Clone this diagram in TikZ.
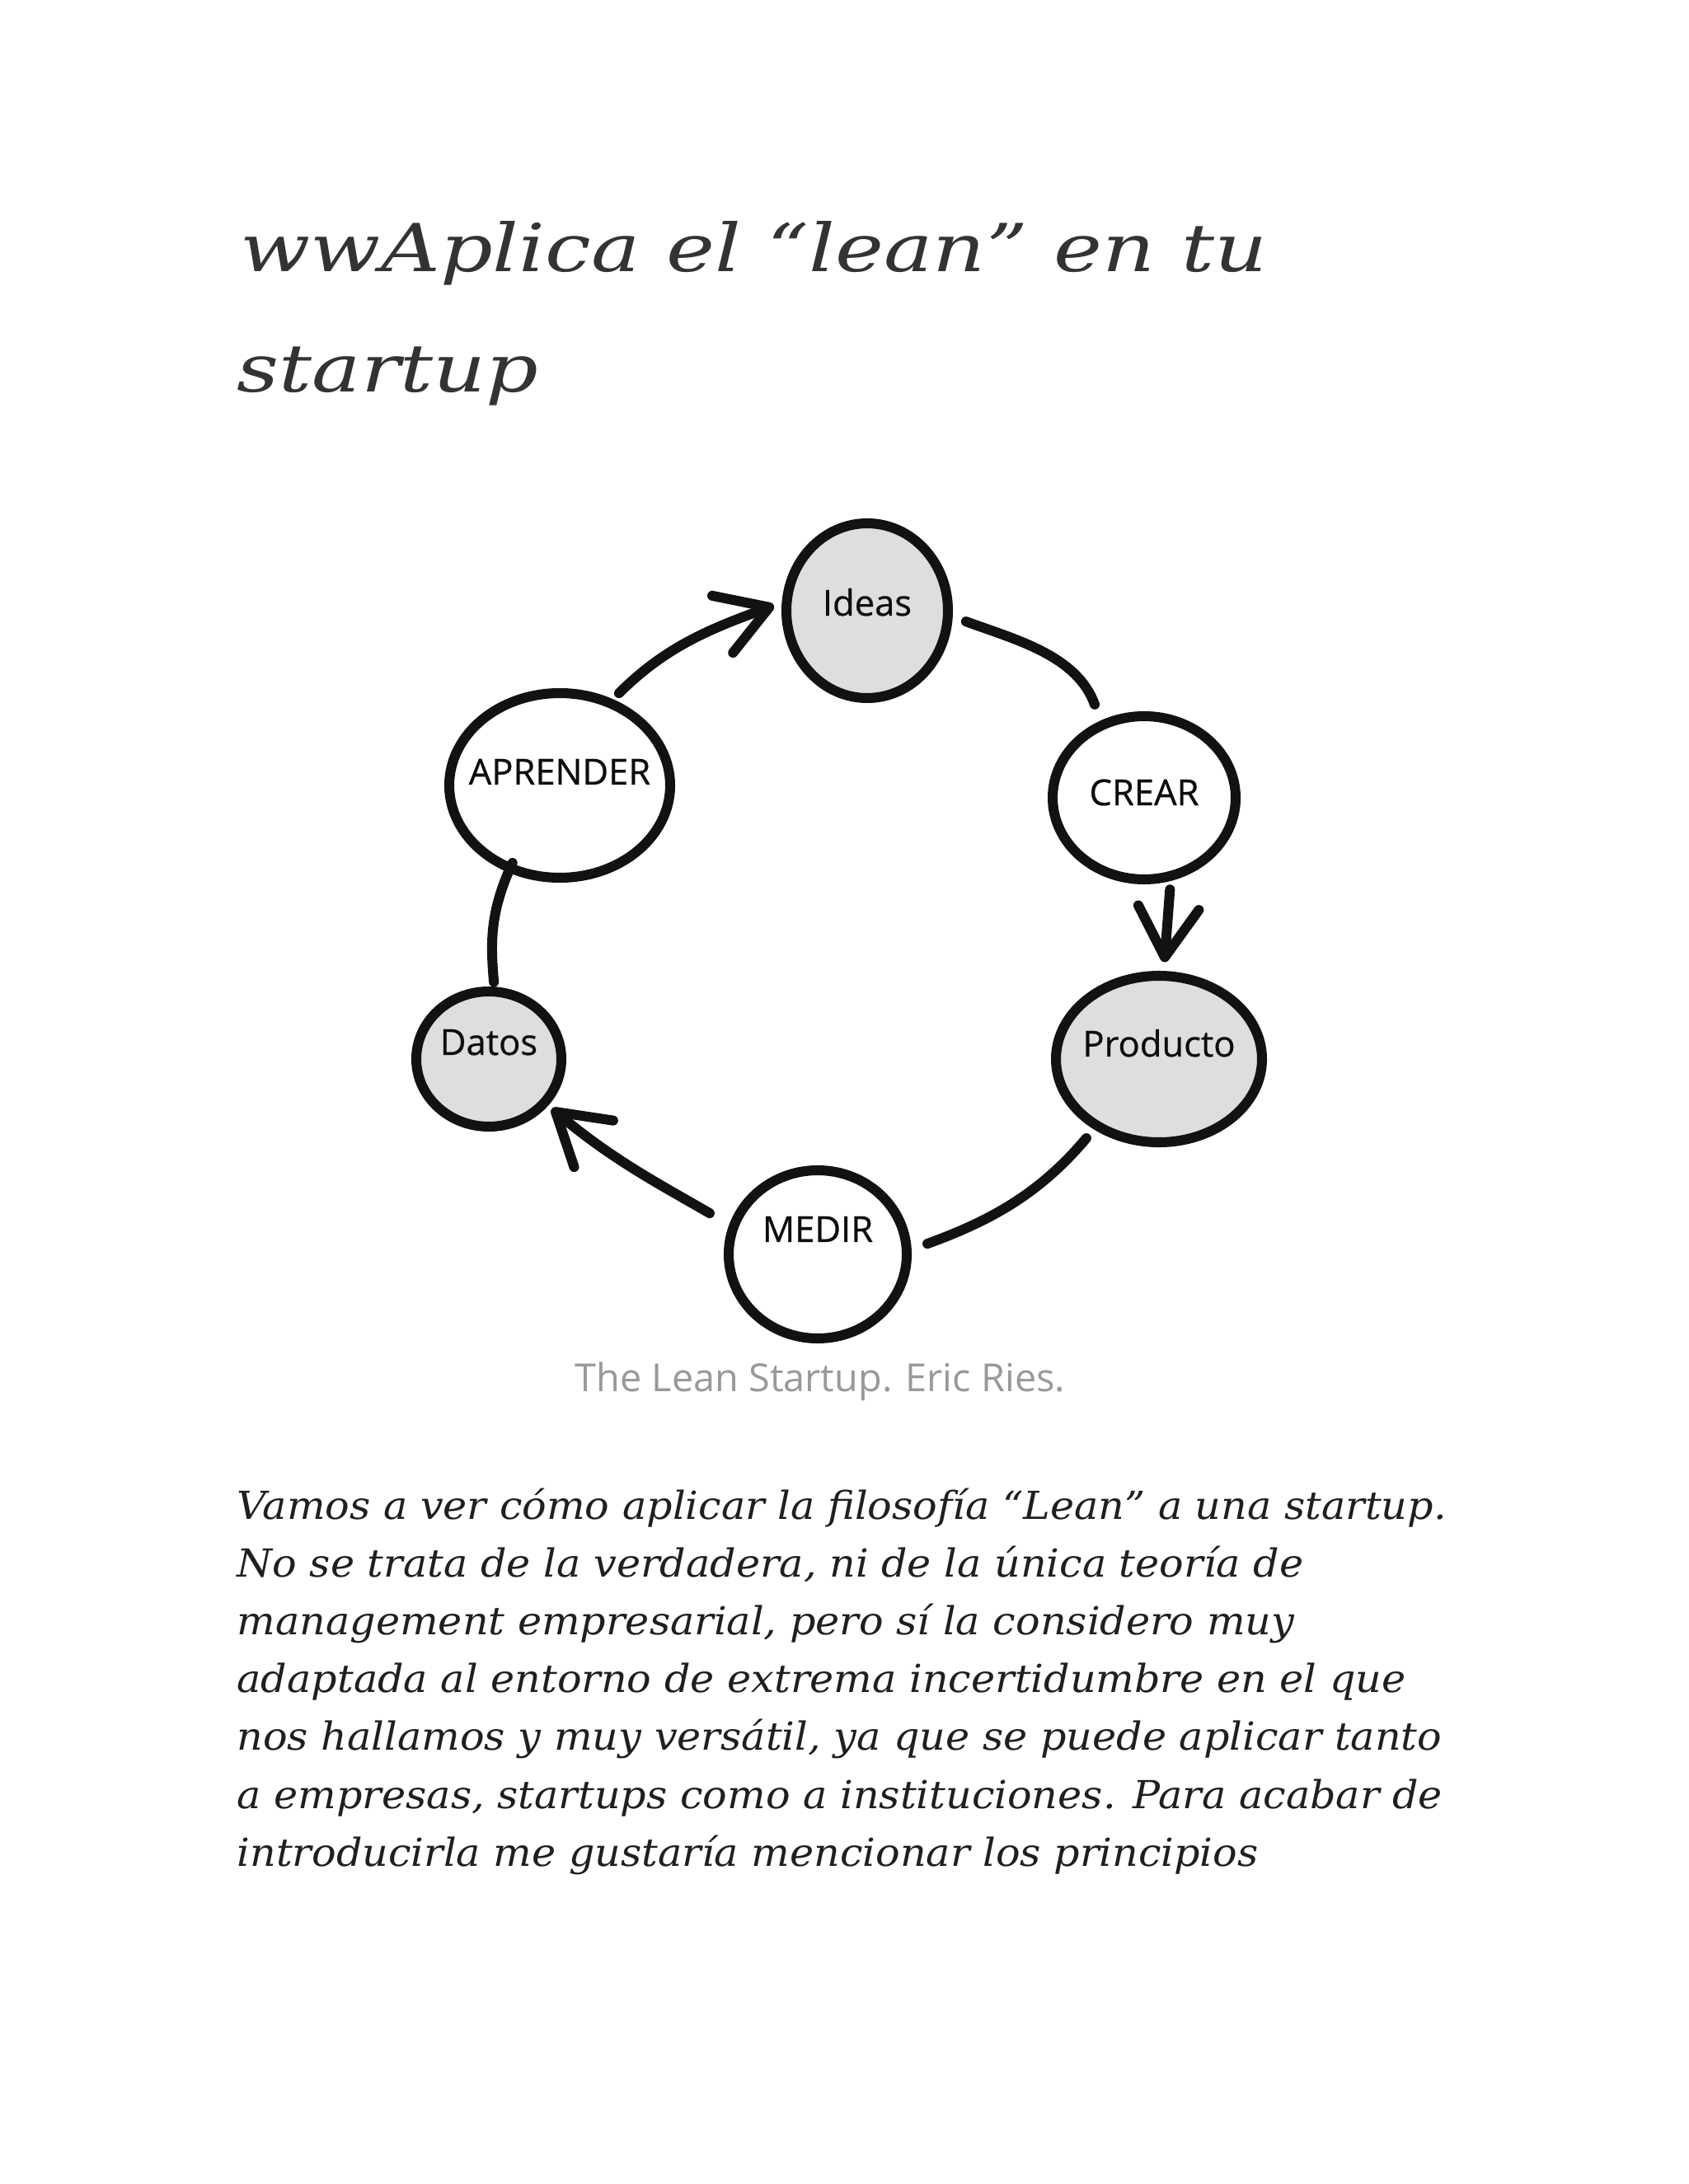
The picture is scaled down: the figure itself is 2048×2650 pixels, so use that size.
\documentclass[tikz,border=0pt]{standalone}
\usepackage{fontspec}
\setmainfont{DejaVu Serif}
\newfontfamily\lblfont{Open Sans}[FakeBold=0.6]
\newfontfamily\capfont{Open Sans}
\newfontfamily\handfont{DejaVu Serif}[FakeStretch=1.05]
\newfontfamily\headfont{DejaVu Serif}[FakeStretch=1.24]
\usetikzlibrary{shapes.geometric,arrows.meta}
\def\pxu{0.29876pt}
\newcommand\lbltext[2]{\makebox[0pt]{\raisebox{#1}{#2}}}
\begin{document}
\begin{tikzpicture}[x=0.29876pt,y=-0.29876pt,
  circnode/.style={ellipse, draw=black!93, line width=3.6pt, inner sep=0pt, outer sep=0pt,
    text height=0pt, text depth=0pt, text=black!95, font=\lblfont\fontsize{13pt}{15pt}\selectfont},
  grayfill/.style={fill=black!13},
  link/.style={line width=3.6pt, line cap=round, draw=black!93},
  arr/.style={link, -{Straight Barb[length=18pt,width=22pt,round]}},
  titlestyle/.style={anchor=base west, inner sep=0pt, text=black!80,
    font=\headfont\itshape\fontsize{24pt}{28pt}\selectfont},
  bodystyle/.style={anchor=base west, inner sep=0pt, text=black!88,
    font=\handfont\itshape\fontsize{14pt}{17pt}\selectfont},
  capstyle/.style={anchor=base, inner sep=0pt, text=black!40,
    font=\capfont\fontsize{14pt}{16pt}\selectfont},
]
\fill[white] (0,0) rectangle (2048,2650);
\useasboundingbox (0,0) rectangle (2048,2650);

% title
\node[titlestyle] (t1) at (291,330) {wwAplica el “lean” en tu};
\node[titlestyle] (t2) at (287,476) {startup};

% cycle nodes
\node[circnode, grayfill, minimum width=196*\pxu, minimum height=212*\pxu] (ideas) at (1052,741) {\lbltext{-1.8pt}{Ideas}};
\node[circnode, minimum width=268*\pxu, minimum height=224*\pxu] (aprender) at (679,953) {\lbltext{0.3pt}{APRENDER}};
\node[circnode, minimum width=222*\pxu, minimum height=198*\pxu] (crear) at (1388,968) {\lbltext{-2.7pt}{CREAR}};
\node[circnode, grayfill, minimum width=250*\pxu, minimum height=202*\pxu] (producto) at (1406,1285) {\lbltext{0.9pt}{Producto}};
\node[circnode, grayfill, minimum width=176*\pxu, minimum height=164*\pxu] (datos) at (593,1285) {\lbltext{1.5pt}{Datos}};
\node[circnode, minimum width=216*\pxu, minimum height=204*\pxu] (medir) at (992,1522) {\lbltext{4.5pt}{MEDIR}};

% connectors
\draw[arr, shorten <=5pt, shorten >=5pt] (aprender.59) to[out=45, in=200] (ideas.173);
\draw[link, shorten <=7pt, shorten >=8pt] (ideas.-3) to[out=-20, in=110] (crear.120);
\draw[arr, shorten <=5pt, shorten >=5pt] (crear.-71) -- (producto.87);
\draw[link, shorten <=6pt, shorten >=8pt] (producto.-133) to[out=-130, in=20] (medir.2);
\draw[arr, shorten <=10pt, shorten >=3.5pt] (medir.162) to[out=150, in=-40] (datos.-38);
\draw[link, shorten <=3.5pt, shorten >=-2pt] (datos.85) to[out=95, in=-115] (aprender.-121);

% caption
\node[capstyle] (cap) at (995,1688) {The Lean Startup. Eric Ries.};

% body text
\node[bodystyle] (l1) at (287,1843) {Vamos a ver cómo aplicar la filosofía “Lean” a una startup.};
\node[bodystyle] (l2) at (287,1913) {No se trata de la verdadera, ni de la única teoría de};
\node[bodystyle] (l3) at (287,1983) {management empresarial, pero sí la considero muy};
\node[bodystyle] (l4) at (287,2053) {adaptada al entorno de extrema incertidumbre en el que};
\node[bodystyle] (l5) at (287,2123) {nos hallamos y muy versátil, ya que se puede aplicar tanto};
\node[bodystyle] (l6) at (287,2194) {a empresas, startups como a instituciones. Para acabar de};
\node[bodystyle] (l7) at (287,2264) {introducirla me gustaría mencionar los principios};
\end{tikzpicture}
\end{document}
